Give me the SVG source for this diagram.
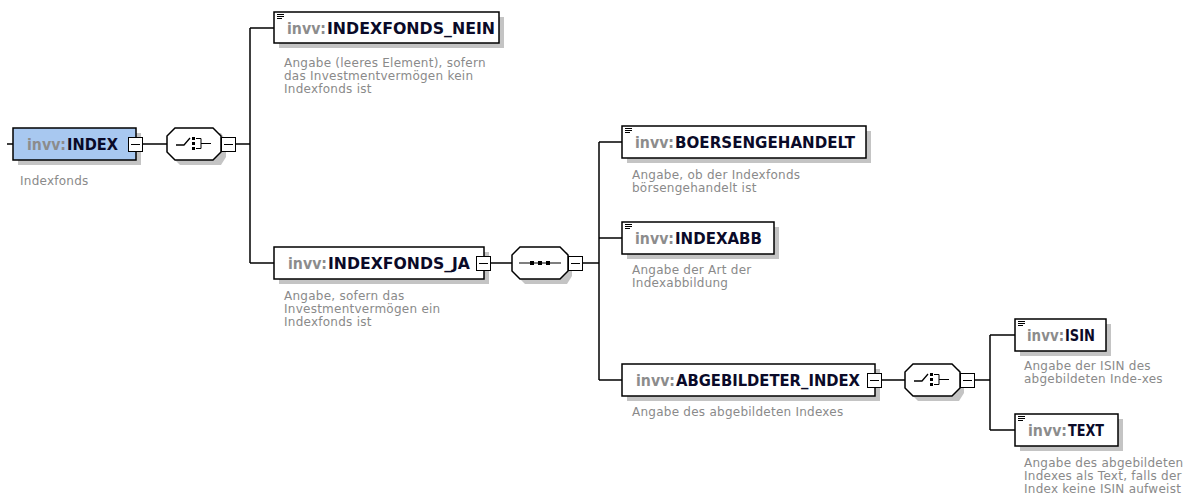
<svg xmlns="http://www.w3.org/2000/svg" width="1202" height="503" viewBox="0 0 1202 503">
<defs>
<style>
.bg{fill:#ffffff}
.box{fill:#ffffff;stroke:#000000;stroke-width:1.5}
.root{fill:#a8c8f0;stroke:#000000;stroke-width:1.5}
.sh{fill:#c4c4c4}
.ln{fill:none;stroke:#000000;stroke-width:1.5}
.btn{fill:#ffffff;stroke:#000000;stroke-width:1}
.t{font-family:"DejaVu Sans",Verdana,sans-serif;font-size:15px;font-weight:bold;fill:#0a0a28}
.p{font-family:"DejaVu Sans",Verdana,sans-serif;font-size:15px;font-weight:bold;fill:#8c8c8c}
.d{font-family:"DejaVu Sans",Verdana,sans-serif;font-size:12px;letter-spacing:0.25px;fill:#8a8a8a}
.ic{stroke:#000;stroke-width:1}
</style>
<g id="simpleIcon">
<path d="M0,0.5H7M0,2.5H7M0,4.5H5" class="ic" fill="none"/>
</g>
<g id="minus">
<rect x="0.5" y="0.5" width="14" height="14" class="btn"/>
<path d="M3,7.5H12" stroke="#000" stroke-width="1"/>
</g>
</defs>
<rect class="bg" x="0" y="0" width="1202" height="503"/>

<g id="connectors">
<path class="ln" d="M7,144H13"/>
<path class="ln" d="M143,144H167"/>
<path class="ln" d="M236,144H250"/>
<path class="ln" d="M250,28V263"/>
<path class="ln" d="M250,28H274"/>
<path class="ln" d="M250,263H274"/>
<path class="ln" d="M491,263H512"/>
<path class="ln" d="M583,263H599"/>
<path class="ln" d="M599,142V380"/>
<path class="ln" d="M599,142H622"/>
<path class="ln" d="M599,238H622"/>
<path class="ln" d="M599,380H622"/>
<path class="ln" d="M882,380H905"/>
<path class="ln" d="M975,380H990"/>
<path class="ln" d="M990,335V430"/>
<path class="ln" d="M990,335H1015"/>
<path class="ln" d="M990,430H1015"/>
</g>

<g id="node-INDEX">
<rect class="sh" x="18" y="133" width="123" height="32"/>
<rect class="root" x="13" y="128" width="123" height="32"/>
<text class="p" x="27" y="149.5" textLength="39" lengthAdjust="spacingAndGlyphs">invv:</text>
<text class="t" x="67" y="149.5" textLength="51" lengthAdjust="spacingAndGlyphs">INDEX</text>
<use href="#minus" x="128" y="137"/>
<text class="d" x="20" y="185">Indexfonds</text>
</g>

<g id="choice-1">
<path class="sh" d="M180,133H221L226,141V157L221,165H180L172,157V141Z"/>
<path class="box" d="M175,128H213L221,136V152L213,160H175L167,152V136Z"/>
<path d="M176,145H184L190,138" fill="none" stroke="#000" stroke-width="1.3"/>
<rect x="192" y="137" width="3" height="3" fill="#000"/>
<rect x="192" y="142" width="3" height="3" fill="#000"/>
<rect x="192" y="147" width="3" height="3" fill="#000"/>
<path d="M196,138.5H201V148.5H196M201,143.5H211" fill="none" stroke="#000" stroke-width="1"/>
<use href="#minus" x="221" y="137"/>
</g>

<g id="node-INDEXFONDS_NEIN">
<rect class="sh" x="279" y="17" width="225" height="31"/>
<rect class="box" x="274" y="12" width="225" height="31"/>
<use href="#simpleIcon" x="277" y="14"/>
<text class="p" x="287" y="33.5" textLength="39" lengthAdjust="spacingAndGlyphs">invv:</text>
<text class="t" x="327" y="33.5" textLength="168" lengthAdjust="spacingAndGlyphs">INDEXFONDS_NEIN</text>
<text class="d" x="284" y="67">Angabe (leeres Element), sofern</text>
<text class="d" x="284" y="80">das Investmentvermögen kein</text>
<text class="d" x="284" y="93">Indexfonds ist</text>
</g>

<g id="node-INDEXFONDS_JA">
<rect class="sh" x="279" y="252" width="210" height="32"/>
<rect class="box" x="274" y="247" width="210" height="32"/>
<text class="p" x="288" y="268.5" textLength="39" lengthAdjust="spacingAndGlyphs">invv:</text>
<text class="t" x="328" y="268.5" textLength="142" lengthAdjust="spacingAndGlyphs">INDEXFONDS_JA</text>
<use href="#minus" x="476" y="256"/>
<text class="d" x="284" y="300">Angabe, sofern das</text>
<text class="d" x="284" y="313">Investmentvermögen ein</text>
<text class="d" x="284" y="326">Indexfonds ist</text>
</g>

<g id="sequence-1">
<path class="sh" d="M525,252H567L572,260V276L567,284H525L517,276V260Z"/>
<path class="box" d="M520,247H560L568,255V271L560,279H520L512,271V255Z"/>
<path d="M519,263H561" stroke="#000" stroke-width="1.2"/>
<rect x="530" y="261" width="4" height="4" fill="#000"/>
<rect x="538" y="261" width="4" height="4" fill="#000"/>
<rect x="546" y="261" width="4" height="4" fill="#000"/>
<use href="#minus" x="568" y="256"/>
</g>

<g id="node-BOERSENGEHANDELT">
<rect class="sh" x="627" y="131" width="244" height="32"/>
<rect class="box" x="622" y="126" width="244" height="32"/>
<use href="#simpleIcon" x="625" y="128"/>
<text class="p" x="635" y="147.5" textLength="39" lengthAdjust="spacingAndGlyphs">invv:</text>
<text class="t" x="675" y="147.5" textLength="180" lengthAdjust="spacingAndGlyphs">BOERSENGEHANDELT</text>
<text class="d" x="632" y="179">Angabe, ob der Indexfonds</text>
<text class="d" x="632" y="192">börsengehandelt ist</text>
</g>

<g id="node-INDEXABB">
<rect class="sh" x="627" y="227" width="152" height="32"/>
<rect class="box" x="622" y="222" width="152" height="32"/>
<use href="#simpleIcon" x="625" y="224"/>
<text class="p" x="635" y="243.5" textLength="39" lengthAdjust="spacingAndGlyphs">invv:</text>
<text class="t" x="675" y="243.5" textLength="87" lengthAdjust="spacingAndGlyphs">INDEXABB</text>
<text class="d" x="632" y="274">Angabe der Art der</text>
<text class="d" x="632" y="287">Indexabbildung</text>
</g>

<g id="node-ABGEBILDETER_INDEX">
<rect class="sh" x="627" y="369" width="253" height="32"/>
<rect class="box" x="622" y="364" width="253" height="32"/>
<text class="p" x="636" y="385.5" textLength="39" lengthAdjust="spacingAndGlyphs">invv:</text>
<text class="t" x="676" y="385.5" textLength="184" lengthAdjust="spacingAndGlyphs">ABGEBILDETER_INDEX</text>
<use href="#minus" x="867" y="373"/>
<text class="d" x="632" y="416">Angabe des abgebildeten Indexes</text>
</g>

<g id="choice-2">
<path class="sh" d="M918,369H959L964,377V393L959,401H918L910,393V377Z"/>
<path class="box" d="M913,364H952L960,372V388L952,396H913L905,388V372Z"/>
<path d="M914,381H922L928,374" fill="none" stroke="#000" stroke-width="1.3"/>
<rect x="930" y="373" width="3" height="3" fill="#000"/>
<rect x="930" y="378" width="3" height="3" fill="#000"/>
<rect x="930" y="383" width="3" height="3" fill="#000"/>
<path d="M934,374.5H939V384.5H934M939,379.5H949" fill="none" stroke="#000" stroke-width="1"/>
<use href="#minus" x="960" y="373"/>
</g>

<g id="node-ISIN">
<rect class="sh" x="1020" y="324" width="91" height="32"/>
<rect class="box" x="1015" y="319" width="91" height="32"/>
<use href="#simpleIcon" x="1018" y="321"/>
<text class="p" x="1027" y="340.5" textLength="37" lengthAdjust="spacingAndGlyphs">invv:</text>
<text class="t" x="1065" y="340.5" textLength="30" lengthAdjust="spacingAndGlyphs">ISIN</text>
<text class="d" x="1024" y="370">Angabe der ISIN des</text>
<text class="d" x="1024" y="383">abgebildeten Inde-xes</text>
</g>

<g id="node-TEXT">
<rect class="sh" x="1020" y="419" width="103" height="32"/>
<rect class="box" x="1015" y="414" width="103" height="32"/>
<use href="#simpleIcon" x="1018" y="416"/>
<text class="p" x="1028" y="435.5" textLength="39" lengthAdjust="spacingAndGlyphs">invv:</text>
<text class="t" x="1068" y="435.5" textLength="36" lengthAdjust="spacingAndGlyphs">TEXT</text>
<text class="d" x="1024" y="467">Angabe des abgebildeten</text>
<text class="d" x="1024" y="480">Indexes als Text, falls der</text>
<text class="d" x="1024" y="493">Index keine ISIN aufweist</text>
</g>
</svg>
